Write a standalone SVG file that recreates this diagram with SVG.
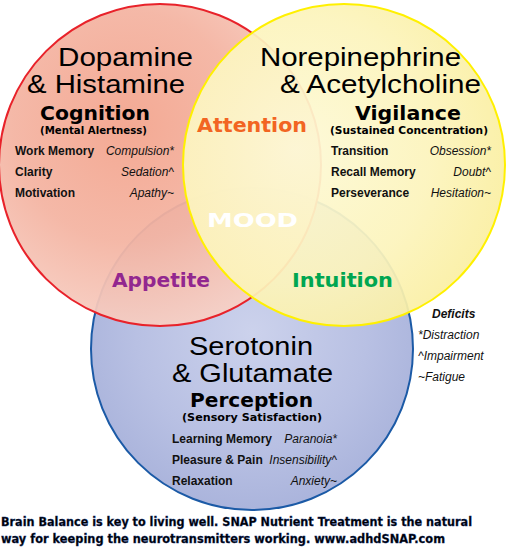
<svg xmlns="http://www.w3.org/2000/svg" width="506" height="552" viewBox="0 0 506 552">
<defs>
<radialGradient id="gRed" cx="0.4" cy="0.38" r="0.65">
<stop offset="0" stop-color="#f3a48d"/>
<stop offset="0.55" stop-color="#f4b4a2"/>
<stop offset="1" stop-color="#f7d0c5"/>
</radialGradient>
<radialGradient id="gYel" cx="0.35" cy="0.45" r="0.7">
<stop offset="0" stop-color="#fdf9d6"/>
<stop offset="0.6" stop-color="#fcf4bc"/>
<stop offset="1" stop-color="#faee9e"/>
</radialGradient>
<radialGradient id="gBlu" cx="0.5" cy="0.45" r="0.6">
<stop offset="0" stop-color="#ccd2ec"/>
<stop offset="0.6" stop-color="#b8c0e3"/>
<stop offset="1" stop-color="#a7b1da"/>
</radialGradient>
</defs>
<style>
.title{font-family:"Liberation Sans",Arial,sans-serif;font-size:26px;fill:#000}
.head{font-family:"DejaVu Sans",Verdana,sans-serif;font-weight:bold;font-size:19px;fill:#000}
.sub{font-family:"DejaVu Sans",Verdana,sans-serif;font-weight:bold;font-size:11px;fill:#000}
.row{font-family:"Liberation Sans",Arial,sans-serif;font-weight:bold;font-size:12px;fill:#111}
.def{font-family:"Liberation Sans",Arial,sans-serif;font-style:italic;font-size:12px;fill:#111;text-anchor:end}
.mid{font-family:"DejaVu Sans",Verdana,sans-serif;font-weight:bold;font-size:19px}
.leg{font-family:"Liberation Sans",Arial,sans-serif;font-style:italic;font-size:12px;fill:#111}
.foot{font-family:"DejaVu Sans",Verdana,sans-serif;font-weight:bold;font-size:12px;fill:#000;stroke:#0b2a70;stroke-width:0.35}
</style>
<rect width="506" height="552" fill="#ffffff"/>
<g id="serotonin">
<circle cx="252" cy="349" r="161" fill="url(#gBlu)" stroke="#1b5aa6" stroke-width="2"/>
</g>
<g id="dopamine">
<circle cx="160" cy="165" r="161" fill="url(#gRed)" fill-opacity="0.94" stroke="#e8222a" stroke-width="2"/>
</g>
<g id="norepinephrine">
<circle cx="344" cy="165" r="161" fill="url(#gYel)" fill-opacity="0.93" stroke="#fff000" stroke-width="2"/>
</g>
<g id="dopamine-text">
<text class="title" x="58" y="66" textLength="135" lengthAdjust="spacingAndGlyphs">Dopamine</text>
<text class="title" x="27" y="93" textLength="158" lengthAdjust="spacingAndGlyphs">&amp; Histamine</text>
<text class="head" x="40" y="120" textLength="110" lengthAdjust="spacingAndGlyphs">Cognition</text>
<text class="sub" x="40" y="134" textLength="107" lengthAdjust="spacingAndGlyphs">(Mental Alertness)</text>
<text class="row" x="15" y="155">Work Memory</text>
<text class="def" x="174" y="155">Compulsion*</text>
<text class="row" x="15" y="176">Clarity</text>
<text class="def" x="174" y="176">Sedation^</text>
<text class="row" x="15" y="197">Motivation</text>
<text class="def" x="174" y="197">Apathy~</text>
</g>
<g id="norepinephrine-text">
<text class="title" x="260" y="66" textLength="201" lengthAdjust="spacingAndGlyphs">Norepinephrine</text>
<text class="title" x="280" y="93" textLength="201" lengthAdjust="spacingAndGlyphs">&amp; Acetylcholine</text>
<text class="head" x="355" y="120" textLength="106" lengthAdjust="spacingAndGlyphs">Vigilance</text>
<text class="sub" x="330" y="134" textLength="158" lengthAdjust="spacingAndGlyphs">(Sustained Concentration)</text>
<text class="row" x="331" y="155">Transition</text>
<text class="def" x="491" y="155">Obsession*</text>
<text class="row" x="331" y="176">Recall Memory</text>
<text class="def" x="491" y="176">Doubt^</text>
<text class="row" x="331" y="197">Perseverance</text>
<text class="def" x="491" y="197">Hesitation~</text>
</g>
<g id="serotonin-text">
<text class="title" x="189" y="355" textLength="124" lengthAdjust="spacingAndGlyphs">Serotonin</text>
<text class="title" x="172" y="382" textLength="161" lengthAdjust="spacingAndGlyphs">&amp; Glutamate</text>
<text class="head" x="190" y="407" textLength="123" lengthAdjust="spacingAndGlyphs">Perception</text>
<text class="sub" x="182" y="421" textLength="140" lengthAdjust="spacingAndGlyphs">(Sensory Satisfaction)</text>
<text class="row" x="172" y="443">Learning Memory</text>
<text class="def" x="337" y="443">Paranoia*</text>
<text class="row" x="172" y="464">Pleasure &amp; Pain</text>
<text class="def" x="337" y="464">Insensibility^</text>
<text class="row" x="172" y="485">Relaxation</text>
<text class="def" x="337" y="485">Anxiety~</text>
</g>
<g id="overlaps">
<text class="mid" x="197" y="132" fill="#f26522" textLength="110" lengthAdjust="spacingAndGlyphs">Attention</text>
<text class="mid" x="207" y="227" fill="#ffffff" font-size="26" textLength="91" lengthAdjust="spacingAndGlyphs">MOOD</text>
<text class="mid" x="112" y="287" fill="#92278f" textLength="98" lengthAdjust="spacingAndGlyphs">Appetite</text>
<text class="mid" x="292" y="287" fill="#00a651" textLength="101" lengthAdjust="spacingAndGlyphs">Intuition</text>
</g>
<g id="legend">
<text class="leg" x="432" y="318" font-weight="bold">Deficits</text>
<text class="leg" x="418" y="339">*Distraction</text>
<text class="leg" x="418" y="360">^Impairment</text>
<text class="leg" x="418" y="381">~Fatigue</text>
</g>
<g id="footer">
<text class="foot" x="1" y="526" textLength="471" lengthAdjust="spacingAndGlyphs">Brain Balance is key to living well. SNAP Nutrient Treatment is the natural</text>
<text class="foot" x="1" y="543" textLength="444" lengthAdjust="spacingAndGlyphs">way for keeping the neurotransmitters working. www.adhdSNAP.com</text>
</g>
</svg>
